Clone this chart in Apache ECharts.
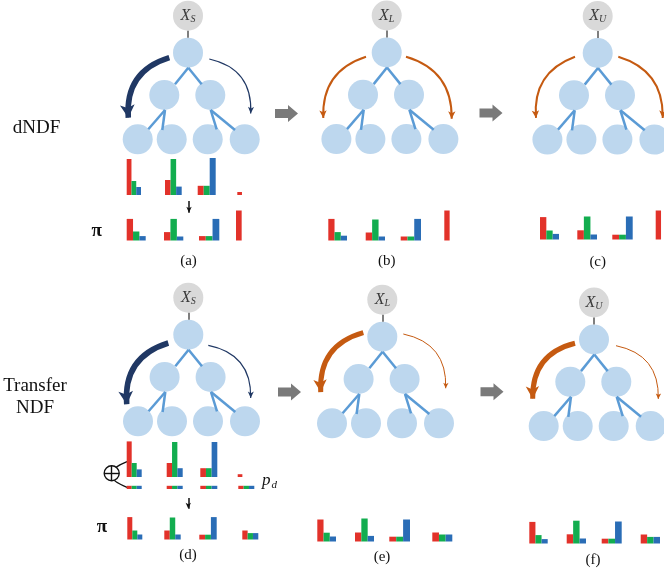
<!DOCTYPE html>
<html>
<head>
<meta charset="utf-8">
<script src="https://cdn.jsdelivr.net/npm/echarts/dist/echarts.min.js"></script>
<style>html,body{margin:0;padding:0;background:#fff;}#chart{width:664px;height:572px;}</style>
</head>
<body>
<div id="chart"></div>
<script>
// ================= DATA =================
const panelTags = ['(a)', '(b)', '(c)', '(d)', '(e)', '(f)'];
const inputSubscripts = ['S', 'L', 'U', 'S', 'L', 'U'];
const rowTitles = ['dNDF', 'Transfer\nNDF'];
const piSymbol = 'π';
const priorSymbol = ['p', 'd'];

// class distributions per leaf: [red, green, blue]
const leafDistA = [[0.90, 0.35, 0.20], [0.375, 0.90, 0.21], [0.23, 0.23, 0.925], [0.075, 0, 0]];
const piA       = [[0.54, 0.225, 0.11], [0.21, 0.54, 0.10], [0.11, 0.11, 0.54], [0.75, 0, 0]];
const piB       = [[0.54, 0.21, 0.12], [0.20, 0.525, 0.10], [0.10, 0.10, 0.54], [0.75, 0, 0]];
const piC       = [[0.56, 0.225, 0.14], [0.23, 0.575, 0.125], [0.12, 0.12, 0.575], [0.725, 0, 0]];
const leafDistD = [[0.89, 0.35, 0.19], [0.35, 0.875, 0.22], [0.22, 0.22, 0.875], [0.07, 0, 0]];
const priorD    = [[0.08, 0.08, 0.08], [0.08, 0.08, 0.08], [0.08, 0.08, 0.08], [0.08, 0.08, 0.08]];
const piD       = [[0.56, 0.225, 0.125], [0.225, 0.55, 0.125], [0.12, 0.12, 0.56], [0.225, 0.16, 0.16]];
const piE       = [[0.55, 0.22, 0.125], [0.225, 0.575, 0.14], [0.12, 0.12, 0.55], [0.225, 0.175, 0.175]];
const piF       = [[0.54, 0.21, 0.11], [0.23, 0.57, 0.125], [0.12, 0.12, 0.55], [0.225, 0.165, 0.165]];

// ================= LAYOUT (positions / sizes) =================
const W = 664, H = 572;
const UNIT_PX = 40;
const panelRoots = [[188, 52.7], [386.7, 52.5], [597.7, 53], [188.3, 334.7], [382.3, 336.7], [594, 339.5]];
const treeNodeOffsets = [[0, 0], [-23.7, 42.3], [22.3, 42.3], [-50.3, 86.6], [-16.3, 86.6], [19.7, 86.6], [56.7, 86.6]];
const inputNodeOffset = [0, -37];
const connectorOffsets = [[0, -22], [0, -15]];
const treeEdgeOffsets = [
  [[0.3, 15], [-13, 31.6]], [[0.3, 15], [13.7, 31.6]],
  [[-23, 57.3], [-39.7, 76.6]], [[-23, 57.3], [-25.7, 77.3]],
  [[22.7, 57.3], [28.7, 76.6]], [[22.7, 57.3], [47, 77.3]]
];
const histRows = [
  { base: 195,   slots: [[126.7, 14.3], [165, 16.7], [197.7, 18], [237.3, 14]] },
  { base: 240.5, slots: [[126.7, 19], [164, 19.3], [199, 20.3], [236, 17]] },
  { base: 240.5, slots: [[328.3, 18.7], [365.7, 19.3], [400.7, 20.3], [444.3, 16]] },
  { base: 239.5, slots: [[540, 19], [577.3, 19.7], [612.3, 20.4], [655.7, 16]] },
  { base: 477,   slots: [[126.7, 15], [166.7, 16], [200.3, 17], [237.7, 14]] },
  { base: 489,   slots: [[126.7, 15], [166.7, 16], [200.3, 17], [238.3, 16]] },
  { base: 539.5, slots: [[127.3, 15], [164.3, 16.4], [199.3, 17.4], [242.3, 16]] },
  { base: 541.5, slots: [[317.3, 18.7], [355, 19], [389.3, 20.7], [432.3, 20]] },
  { base: 543.5, slots: [[529.3, 18.4], [566.7, 19.3], [601.7, 20], [640.7, 19.3]] }
];
const histSources = [leafDistA, piA, piB, piC, leafDistD, priorD, piD, piE, piF];
const barColors = ['#e2322a', '#12ad4f', '#2a6db6'];

const arrowStyles = {
  navyBold:   { color: '#203864', width: 5.5, head: [11, 13] },
  navyThin:   { color: '#203864', width: 1.2, head: [4.5, 6.5] },
  orangeMed:  { color: '#c55a11', width: 2,   head: [5.5, 7.5] },
  orangeBold: { color: '#c55a11', width: 5,   head: [10, 12.5] },
  orangeThin: { color: '#c55a11', width: 1,   head: [4, 5.5] }
};
// [panel, start offset, tip offset, style, curveness]
const arrowLayout = [
  [0, [-18.7, 5], [-59.7, 71.6], 'navyBold', -0.4],
  [0, [21.3, 6.3], [62.7, 64], 'navyThin', 0.42],
  [1, [-20.7, 4.2], [-63.4, 69.2], 'orangeMed', -0.38],
  [1, [19.3, 4.2], [65, 70], 'orangeMed', 0.38],
  [2, [-22.7, 3.7], [-61.7, 68.7], 'orangeMed', -0.38],
  [2, [20.6, 3.7], [65, 68.7], 'orangeMed', 0.38],
  [3, [-20, 8.3], [-61.6, 76], 'navyBold', -0.4],
  [3, [20, 10.6], [62.4, 66.6], 'navyThin', 0.42],
  [4, [-19, -4], [-61.6, 61.6], 'orangeBold', -0.4],
  [4, [21, -2.7], [63.4, 54.3], 'orangeThin', 0.42],
  [5, [-19, 3.8], [-61.3, 65.5], 'orangeBold', -0.4],
  [5, [22, 6.2], [64.3, 62.2], 'orangeThin', 0.42]
];
const blockArrowCenters = [[286.5, 113.5], [491, 113], [289.5, 392], [492, 391.7]];
const downArrows = [[[189, 201], [189, 215.7]], [[188.3, 498], [188.3, 511.7]]];
const oplusCenter = [111.7, 473.3];
const oplusArc = [[127, 461.7], [127, 487.3]];
const tagPositions = [[188.5, 261], [386.7, 261], [597.7, 262], [188, 555], [382, 557], [593, 560]];
const rowTitlePositions = [[36.5, 128], [35, 397]];
const piPositions = [[96.7, 231], [102, 527.5]];
const priorLabelPos = [262, 481];

// ================= BUILD =================
const add = (a, b) => [a[0] + b[0], a[1] + b[1]];
const blueNodes = [], grayNodes = [], edgeLines = [], connLines = [];
panelRoots.forEach((r, p) => {
  treeNodeOffsets.forEach(o => blueNodes.push(add(r, o)));
  grayNodes.push({ name: inputSubscripts[p], value: add(r, inputNodeOffset) });
  connLines.push({ coords: [add(r, connectorOffsets[0]), add(r, connectorOffsets[1])] });
  treeEdgeOffsets.forEach(e => edgeLines.push({ coords: [add(r, e[0]), add(r, e[1])] }));
});

const histData = [];
histSources.forEach((src, ri) => src.forEach((d, si) => histData.push([ri, si, d[0], d[1], d[2]])));

const arrowSeries = Object.keys(arrowStyles).map(key => {
  const st = arrowStyles[key];
  const data = arrowLayout.filter(a => a[3] === key).map(a => {
    const r = panelRoots[a[0]];
    const tip = add(r, a[2]);
    const end = [tip[0], tip[1] - st.head[1] / 2];
    return { coords: [add(r, a[1]), end], lineStyle: { curveness: a[4] } };
  });
  return {
    type: 'lines', coordinateSystem: 'cartesian2d', z: 6,
    symbol: ['none', 'arrow'], symbolSize: [0, st.head],
    lineStyle: { color: st.color, width: st.width, opacity: 1 },
    data
  };
});

const serif = 'Liberation Serif';
const graphics = [];
rowTitles.forEach((t, i) => graphics.push({
  type: 'text', x: rowTitlePositions[i][0], y: rowTitlePositions[i][1],
  style: { text: t, fontFamily: serif, fontSize: 19, lineHeight: 22, fill: '#111', align: 'center', verticalAlign: 'middle', textAlign: 'center', textVerticalAlign: 'middle' }
}));
piPositions.forEach(p => graphics.push({
  type: 'text', x: p[0], y: p[1],
  style: { text: piSymbol, fontFamily: serif, fontSize: 19, fontWeight: 'bold', fill: '#111', align: 'center', verticalAlign: 'middle', textAlign: 'center', textVerticalAlign: 'middle' }
}));
panelTags.forEach((t, i) => graphics.push({
  type: 'text', x: tagPositions[i][0], y: tagPositions[i][1],
  style: { text: t, fontFamily: serif, fontSize: 15, fill: '#111', align: 'center', verticalAlign: 'middle', textAlign: 'center', textVerticalAlign: 'middle' }
}));
graphics.push({
  type: 'text', x: priorLabelPos[0], y: priorLabelPos[1],
  style: {
    text: '{p|' + priorSymbol[0] + '}{d|' + priorSymbol[1] + '}',
    align: 'left', verticalAlign: 'middle', textAlign: 'left', textVerticalAlign: 'middle',
    rich: {
      p: { fontFamily: serif, fontStyle: 'italic', fontSize: 17, fill: '#111', color: '#111' },
      d: { fontFamily: serif, fontStyle: 'italic', fontSize: 11, fill: '#111', color: '#111', padding: [9, 0, 0, 1] }
    }
  }
});

const chart = echarts.init(document.getElementById('chart'));
chart.setOption({
  animation: false,
  backgroundColor: '#fff',
  grid: { left: 0, right: 0, top: 0, bottom: 0, containLabel: false },
  xAxis: { type: 'value', min: 0, max: W, show: false },
  yAxis: { type: 'value', min: 0, max: H, inverse: true, show: false },
  graphic: graphics,
  series: [
    { type: 'scatter', z: 2, symbol: 'circle', symbolSize: 30, itemStyle: { color: '#bdd7ee', opacity: 1 }, data: blueNodes, silent: true },
    { type: 'lines', coordinateSystem: 'cartesian2d', z: 3, lineStyle: { color: '#5b9bd5', width: 2.5, opacity: 1 }, data: edgeLines },
    { type: 'lines', coordinateSystem: 'cartesian2d', z: 3, lineStyle: { color: '#7f7f7f', width: 2, opacity: 1 }, data: connLines },
    {
      type: 'scatter', z: 2, symbol: 'circle', symbolSize: 30, itemStyle: { color: '#d9d9d9', opacity: 1 }, data: grayNodes,
      label: {
        show: true, position: 'inside',
        formatter: p => '{x|X}{s|' + p.name + '}',
        rich: {
          x: { fontFamily: serif, fontStyle: 'italic', fontSize: 16, color: '#3a3a3a' },
          s: { fontFamily: serif, fontStyle: 'italic', fontSize: 10, color: '#3a3a3a', padding: [7, 0, 0, 0] }
        }
      }
    },
    {
      type: 'custom', z: 5, data: histData,
      renderItem: function (params, api) {
        const row = histRows[api.value(0)];
        const slot = row.slots[api.value(1)];
        const bw = slot[1] / 3;
        const children = [];
        for (let k = 0; k < 3; k++) {
          const v = api.value(2 + k);
          if (!(v > 0)) continue;
          const pt = api.coord([slot[0] + k * bw, row.base]);
          const sz = api.size([bw, v * UNIT_PX]);
          children.push({ type: 'rect', shape: { x: pt[0], y: pt[1] - sz[1], width: sz[0], height: sz[1] }, style: { fill: barColors[k] } });
        }
        return { type: 'group', children: children };
      }
    },
    {
      type: 'scatter', z: 4, symbol: 'path://M0,4L13,4L13,0L23,8.5L13,17L13,13L0,13Z', symbolSize: [23, 17],
      itemStyle: { color: '#7a7a7a', opacity: 1 }, data: blockArrowCenters, silent: true
    },
    {
      type: 'lines', coordinateSystem: 'cartesian2d', z: 2,
      lineStyle: { color: '#111', width: 1.3, curveness: -1.25, opacity: 1 },
      data: [{ coords: oplusArc }]
    },
    {
      type: 'scatter', z: 3, symbol: 'circle', symbolSize: 15,
      itemStyle: { color: '#fff', borderColor: '#111', borderWidth: 1.4, opacity: 1 }, data: [oplusCenter], silent: true
    },
    {
      type: 'lines', coordinateSystem: 'cartesian2d', z: 4,
      lineStyle: { color: '#111', width: 1.4, opacity: 1 },
      data: [
        { coords: [[oplusCenter[0] - 7.5, oplusCenter[1]], [oplusCenter[0] + 7.5, oplusCenter[1]]] },
        { coords: [[oplusCenter[0], oplusCenter[1] - 7.5], [oplusCenter[0], oplusCenter[1] + 7.5]] }
      ]
    },
    {
      type: 'lines', coordinateSystem: 'cartesian2d', z: 4,
      symbol: ['none', 'arrow'], symbolSize: [0, [4, 6]],
      lineStyle: { color: '#111', width: 1.5, opacity: 1 },
      data: downArrows.map(d => ({ coords: [d[0], [d[1][0], d[1][1] - 3]] }))
    }
  ].concat(arrowSeries)
});
</script>
</body>
</html>
